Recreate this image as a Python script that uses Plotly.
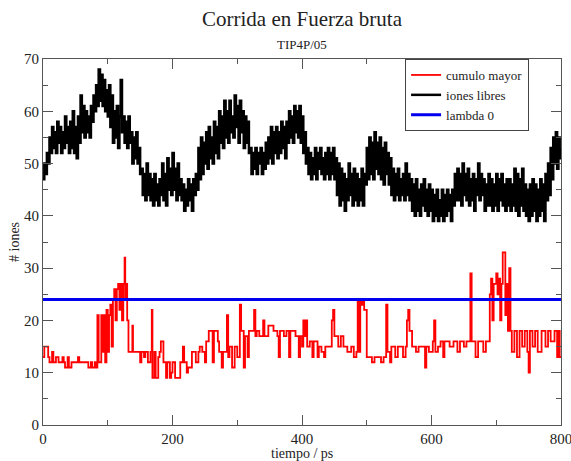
import plotly.graph_objects as go

# ---------------- data ----------------
title_text = "Corrida en Fuerza bruta"
subtitle_text = "TIP4P/05"
x_label = "tiempo / ps"
y_label = "# iones"
series_names = ["cumulo mayor", "iones libres", "lambda 0"]

# iones libres: sampled every 2 ps (one row = 40 ps)
black_time = list(range(0, 801, 2))
black_vals = [
    47, 50, 48, 52, 50, 55, 52, 57, 53, 56, 52, 58, 54, 57, 52, 56, 53, 59, 54, 57,
    52, 58, 53, 60, 52, 57, 51, 59, 54, 63, 56, 61, 55, 60, 56, 59, 55, 61, 58, 63,
    60, 65, 61, 68, 62, 67, 61, 66, 60, 64, 59, 65, 57, 63, 54, 60, 55, 61, 53, 59,
    66, 56, 59, 54, 58, 53, 59, 54, 56, 50, 55, 51, 56, 50, 53, 48, 49, 44, 48, 43,
    50, 44, 48, 43, 47, 42, 48, 43, 46, 42, 47, 44, 50, 43, 48, 42, 51, 45, 49, 44,
    52, 45, 49, 43, 50, 44, 47, 43, 46, 41, 45, 42, 47, 43, 46, 41, 47, 44, 48, 45,
    53, 47, 55, 48, 54, 50, 56, 49, 57, 51, 55, 50, 58, 52, 57, 51, 60, 54, 59, 53,
    62, 55, 60, 54, 62, 56, 59, 55, 63, 57, 61, 54, 62, 56, 60, 53, 59, 54, 58, 52,
    53, 48, 52, 49, 53, 48, 52, 50, 53, 48, 52, 49, 54, 50, 55, 51, 57, 50, 56, 52,
    57, 51, 56, 52, 58, 53, 57, 51, 58, 54, 60, 55, 59, 54, 61, 56, 60, 55, 61, 54,
    59, 52, 56, 50, 53, 48, 52, 47, 51, 48, 53, 47, 52, 49, 53, 48, 51, 47, 52, 48,
    53, 47, 52, 48, 53, 47, 51, 44, 50, 42, 49, 43, 48, 41, 47, 43, 50, 44, 48, 42,
    49, 43, 48, 42, 47, 43, 49, 42, 48, 46, 53, 47, 55, 48, 54, 47, 56, 49, 54, 48,
    55, 47, 53, 46, 54, 48, 52, 46, 51, 44, 49, 43, 48, 44, 49, 43, 47, 44, 48, 43,
    50, 44, 48, 43, 47, 41, 46, 40, 47, 41, 45, 40, 46, 42, 47, 41, 45, 40, 46, 41,
    45, 39, 44, 40, 45, 39, 43, 40, 45, 39, 44, 40, 45, 41, 44, 39, 45, 42, 48, 43,
    49, 43, 48, 42, 50, 44, 48, 43, 49, 42, 47, 43, 48, 41, 47, 44, 50, 43, 48, 44,
    47, 41, 46, 42, 48, 42, 47, 41, 46, 42, 48, 41, 47, 43, 48, 42, 46, 41, 47, 42,
    47, 41, 46, 42, 49, 41, 48, 40, 47, 42, 49, 41, 46, 40, 45, 39, 46, 40, 47, 41,
    46, 39, 45, 40, 47, 41, 46, 39, 48, 43, 50, 44, 53, 47, 55, 50, 56, 49, 55, 51,
    53,
]

# cumulo mayor: step changes (time in ps, value held until next time)
red_time = [
    0, 2, 8, 10, 14, 16, 20, 24, 30, 32, 34, 38, 40, 44, 54, 56, 70, 74, 76, 80,
    82, 84, 86, 90, 92, 94, 96, 98, 100, 102, 104, 106, 108, 110, 112, 114, 116, 118, 120, 122,
    124, 126, 127, 128, 130, 132, 138, 139, 150, 152, 156, 158, 162, 166, 168, 169, 172, 174, 178, 180,
    182, 186, 190, 192, 196, 198, 200, 204, 212, 216, 218, 222, 224, 230, 236, 240, 242, 246, 250, 252,
    256, 262, 264, 270, 272, 276, 278, 284, 286, 288, 292, 296, 300, 304, 306, 310, 312, 316, 318, 326,
    328, 330, 334, 340, 342, 348, 356, 362, 364, 366, 372, 376, 380, 382, 390, 395, 397, 400, 402, 404,
    406, 408, 412, 416, 418, 424, 426, 430, 434, 436, 446, 448, 450, 456, 460, 464, 470, 476, 480, 484,
    486, 488, 490, 492, 494, 496, 500, 508, 512, 522, 526, 530, 532, 536, 538, 544, 548, 556, 560, 562,
    564, 566, 570, 576, 580, 590, 592, 596, 602, 604, 606, 610, 614, 618, 620, 628, 634, 640, 644, 650,
    654, 660, 662, 668, 672, 680, 684, 690, 692, 694, 696, 700, 702, 704, 706, 708, 710, 714, 716, 718,
    720, 722, 724, 728, 732, 736, 740, 744, 748, 750, 752, 756, 760, 764, 770, 776, 780, 784, 790, 794,
    796, 798, 800,
]
red_vals = [
    13, 15, 13, 12, 14, 12, 13, 12, 13, 12, 11, 13, 11, 12, 13, 12, 11, 12, 11, 12,
    11, 21, 12, 21, 14, 21, 12, 22, 14, 21, 23, 15, 24, 26, 20, 26, 27, 22, 27, 20,
    27, 32, 24, 27, 20, 14, 19, 14, 12, 14, 13, 14, 12, 14, 22, 9, 14, 9, 13, 14,
    16, 12, 9, 12, 9, 10, 12, 9, 12, 15, 12, 10, 11, 14, 12, 14, 15, 14, 12, 16,
    18, 12, 18, 16, 14, 11, 14, 21, 13, 15, 11, 15, 13, 23, 18, 11, 17, 13, 18, 22,
    17, 18, 17, 20, 17, 19, 18, 17, 13, 18, 17, 18, 13, 18, 17, 13, 17, 15, 20, 17,
    20, 15, 16, 13, 16, 13, 15, 14, 13, 15, 20, 22, 17, 15, 17, 15, 14, 15, 13, 14,
    24, 14, 24, 23, 24, 22, 13, 12, 13, 12, 13, 23, 14, 12, 15, 13, 15, 13, 15, 20,
    22, 18, 15, 14, 15, 11, 15, 14, 16, 20, 14, 15, 16, 13, 16, 15, 16, 14, 16, 15,
    16, 29, 16, 13, 16, 14, 16, 25, 28, 20, 27, 29, 25, 28, 20, 27, 33, 21, 27, 18,
    30, 18, 14, 18, 13, 18, 15, 18, 14, 10, 18, 15, 18, 14, 18, 15, 18, 16, 18, 13,
    18, 13, 13,
]

lambda_time = [0, 800]
lambda_vals = [24, 24]

x_ticks = [0, 200, 400, 600, 800]
y_ticks = [0, 10, 20, 30, 40, 50, 60, 70]

# ---------------- figure ----------------
SERIF = "Liberation Serif, Times New Roman, serif"
W, H = 571, 461
ML, MR, MT, MB = 43, 10, 59, 36

fig = go.Figure()
fig.add_trace(go.Scatter(x=red_time, y=red_vals, mode="lines", name=series_names[0],
                         line=dict(color="#ff0000", width=1.8, shape="hv")))
fig.add_trace(go.Scatter(x=black_time, y=black_vals, mode="lines", name=series_names[1],
                         line=dict(color="#000000", width=2.5, shape="hv")))
fig.add_trace(go.Scatter(x=lambda_time, y=lambda_vals, mode="lines", name=series_names[2],
                         line=dict(color="#0000ee", width=3)))

axis_common = dict(
    showgrid=False, zeroline=False, showline=True, linecolor="#555555", linewidth=1.2,
    mirror="ticks", ticks="inside", ticklen=10, tickwidth=1.2, tickcolor="#555555",
    tickfont=dict(family=SERIF, size=15, color="#222222"), automargin=False,
    ticklabeloverflow="allow",
)

fig.update_layout(
    width=W, height=H,
    margin=dict(l=ML, r=MR, t=MT, b=MB, autoexpand=False),
    paper_bgcolor="white", plot_bgcolor="white",
    font=dict(family=SERIF, color="#222222"),
    showlegend=True,
    legend=dict(x=0.699, y=1.0, xanchor="left", yanchor="top",
                bordercolor="#444444", borderwidth=1, bgcolor="white",
                font=dict(family=SERIF, size=13, color="#222222"),
                tracegroupgap=0, itemwidth=30),
    xaxis=dict(range=[0, 800], tickvals=x_ticks,
               minor=dict(ticks="inside", ticklen=5, dtick=100, tickcolor="#555555"),
               **axis_common),
    yaxis=dict(range=[0, 70], tickvals=y_ticks,
               minor=dict(ticks="inside", ticklen=5, dtick=5, tickcolor="#555555"),
               **axis_common),
)

plot_h = H - MT - MB
plot_w = W - ML - MR
def py(pix):
    return (H - MB - pix) / plot_h

fig.add_annotation(text=title_text, x=0.5, y=py(19), xref="paper", yref="paper",
                   showarrow=False, yanchor="middle",
                   font=dict(family=SERIF, size=21, color="#222222"))
fig.add_annotation(text=subtitle_text, x=0.5, y=py(45), xref="paper", yref="paper",
                   showarrow=False, yanchor="middle",
                   font=dict(family=SERIF, size=13, color="#222222"))
fig.add_annotation(text=x_label, x=0.5, y=py(453), xref="paper", yref="paper",
                   showarrow=False, yanchor="middle",
                   font=dict(family=SERIF, size=14, color="#222222"))
fig.add_annotation(text=y_label, x=(14 - ML) / plot_w, y=0.5, xref="paper", yref="paper",
                   showarrow=False, textangle=-90, xanchor="center",
                   font=dict(family=SERIF, size=14, color="#222222"))

fig.write_html(
    "out.html",
    config={"displayModeBar": False},
    post_script="document.body.style.margin='0';document.body.style.overflow='hidden';",
)
